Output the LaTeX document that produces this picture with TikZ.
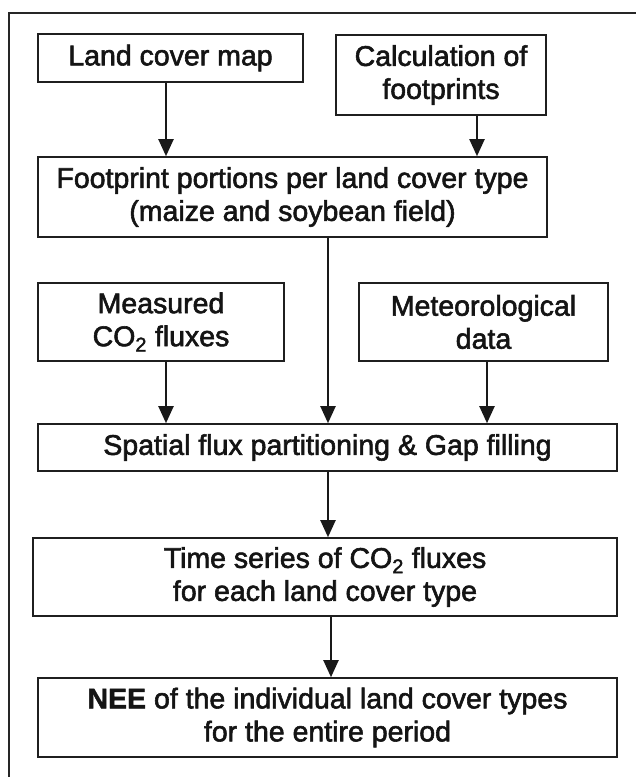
\documentclass[tikz,border=0pt]{standalone}
\usepackage{fontspec}
\setmainfont{Liberation Sans}
\newfontfamily\regf{Liberation Sans}[FakeBold=2]
\newfontfamily\boldf{Liberation Sans Bold}[FakeBold=1.5]
\usetikzlibrary{arrows.meta}
\begin{document}
\begin{tikzpicture}[x=1pt,y=-1pt,
  box/.style={draw=black!88,line width=1.6pt,inner sep=0pt,align=center,
    font=\regf\fontsize{28.5}{33}\selectfont,text=black!92},
  arr/.style={line width=2pt,draw=black!90,-{Triangle[length=17pt,width=15pt]}}]
\useasboundingbox (0,0) rectangle (636,777);
\fill[white] (0,0) rectangle (636,777);
\draw[line width=1.3pt,black!85] (9,777) coordinate (fb) -- (9,13) coordinate (fc) -- (636,13) coordinate (fr);
\node[box,minimum width=265pt,minimum height=48pt] (lcm) at (170.5,58) {Land cover map};
\node[box,minimum width=210pt,minimum height=80pt] (calc) at (441,75) {Calculation of\\footprints};
\node[box,minimum width=509pt,minimum height=80pt] (foot) at (292.5,197) {Footprint portions per land cover type\\(maize and soybean field)};
\node[box,minimum width=246pt,minimum height=78pt] (meas) at (161,322) {Measured\\CO\textsubscript{2} fluxes};
\node[box,minimum width=249pt,minimum height=78pt] (met) at (483.5,322) {Meteorological\\data};
\node[box,minimum width=579pt,minimum height=47pt] (spat) at (327.5,447.5) {Spatial flux partitioning \& Gap filling};
\node[box,minimum width=584pt,minimum height=78pt] (ts) at (325,577) {Time series of CO\textsubscript{2} fluxes\\for each land cover type};
\node[box,minimum width=579pt,minimum height=79pt] (nee) at (327.5,717.5) {{\boldf NEE} of the individual land cover types\\for the entire period};
\coordinate (xa) at (166,0);
\coordinate (xb) at (477,0);
\coordinate (xc) at (328,0);
\coordinate (xd) at (487,0);
\coordinate (xe) at (331,0);
\draw[arr] (lcm.south -| xa) -- (foot.north -| xa);
\draw[arr] (calc.south -| xb) -- (foot.north -| xb);
\draw[arr] (foot.south -| xc) -- (spat.north -| xc);
\draw[arr] (meas.south -| xa) -- (spat.north -| xa);
\draw[arr] (met.south -| xd) -- (spat.north -| xd);
\draw[arr] (spat.south -| xc) -- (ts.north -| xc);
\draw[arr] (ts.south -| xe) -- (nee.north -| xe);
\end{tikzpicture}
\end{document}
